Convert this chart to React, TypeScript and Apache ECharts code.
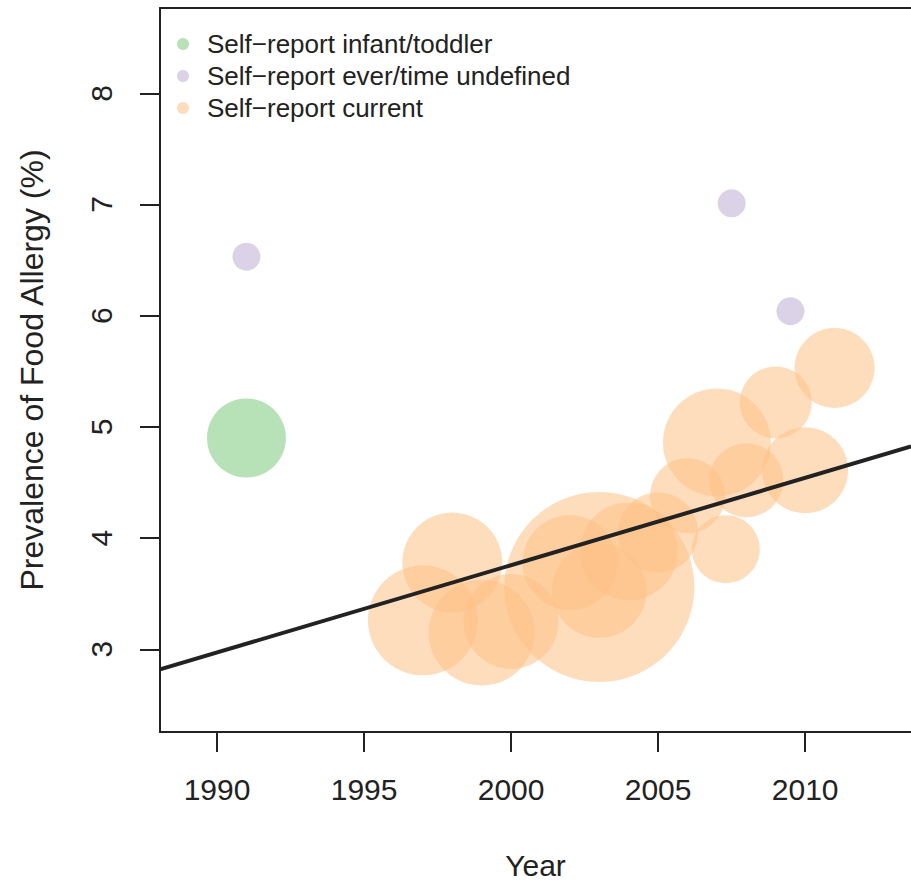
import React, { useEffect, useRef } from "react";
import * as echarts from "echarts";

// ---- Data ----
const infantYears = [1991];
const infantValues = [4.9];
const infantWeights = [79];

const everYears = [1991, 2007.5, 2009.5];
const everValues = [6.53, 7.01, 6.04];
const everWeights = [28, 28, 28];

const currentYears = [2003, 1997, 1999, 1998, 2007, 2000, 2002, 2003, 2004, 2010, 2005, 2011, 2006, 2008, 2009, 2007.3];
const currentValues = [3.56, 3.26, 3.15, 3.78, 4.86, 3.25, 3.78, 3.53, 3.88, 4.61, 4.05, 5.53, 4.38, 4.52, 5.22, 3.9];
const currentWeights = [190, 110, 106, 100, 108, 95, 95, 95, 98, 86, 80, 80, 75, 74, 72, 68];

const fitLine = [
  [1988.06, 2.819],
  [2013.6, 4.824],
];

const xTicks = [1990, 1995, 2000, 2005, 2010];
const yTicks = [3, 4, 5, 6, 7, 8];

const seriesNames = [
  "Self\u2212report infant/toddler",
  "Self\u2212report ever/time undefined",
  "Self\u2212report current",
];

const COLORS = [
  "rgba(127,201,127,0.7)",
  "rgba(190,174,212,0.7)",
  "rgba(253,192,134,0.68)",
];

const FONT = "'Liberation Sans', Arial, Helvetica, sans-serif";
const INK = "#222222";

function pts(xs: number[], ys: number[], ws: number[]) {
  return xs.map((x, i) => [x, ys[i], ws[i]]);
}

export default function App() {
  const ref = useRef<HTMLDivElement>(null);
  useEffect(() => {
    if (!ref.current) return;
    const chart = echarts.init(ref.current, undefined, { renderer: "svg" });
    const bubble = (name: string, color: string, data: number[][]) => ({
      name,
      type: "scatter",
      data,
      symbol: "circle",
      symbolSize: (v: number[]) => v[2],
      itemStyle: { color },
      emphasis: { disabled: true },
      z: 2,
    });
    chart.setOption({
      animation: false,
      backgroundColor: "#ffffff",
      textStyle: { fontFamily: FONT },
      grid: {
        left: 160,
        top: 8,
        right: 0,
        bottom: 154,
        show: false,
        containLabel: false,
      },
      legend: {
        orient: "vertical",
        left: 172,
        top: 26,
        itemWidth: 38,
        itemHeight: 12,
        itemGap: 6,
        icon: "circle",
        textStyle: { fontFamily: FONT, fontSize: 26, color: INK },
        data: seriesNames,
      },
      xAxis: [
        {
          type: "value",
          min: 1988.06,
          max: 2013.6,
          name: "Year",
          nameLocation: "middle",
          nameGap: 118,
          nameTextStyle: { fontFamily: FONT, fontSize: 30, color: INK },
          splitLine: { show: false },
          axisLine: { show: true, lineStyle: { color: INK, width: 2 } },
          axisTick: {
            show: true,
            length: 20,
            lineStyle: { color: INK, width: 2 },
            customValues: xTicks,
          },
          axisLabel: {
            fontFamily: FONT,
            fontSize: 30,
            color: INK,
            margin: 42,
            customValues: xTicks,
            formatter: (v: number) => String(v),
          },
        },
        {
          type: "value",
          position: "top",
          min: 1988.06,
          max: 2013.6,
          splitLine: { show: false },
          axisLine: { show: true, lineStyle: { color: INK, width: 2 } },
          axisTick: { show: false },
          axisLabel: { show: false },
        },
      ],
      yAxis: {
        type: "value",
        min: 2.256,
        max: 8.767,
        name: "Prevalence of Food Allergy (%)",
        nameLocation: "middle",
        nameGap: 112,
        nameTextStyle: { fontFamily: FONT, fontSize: 32, color: INK },
        splitLine: { show: false },
        axisLine: { show: true, lineStyle: { color: INK, width: 2 } },
        axisTick: {
          show: true,
          length: 20,
          lineStyle: { color: INK, width: 2 },
          customValues: yTicks,
        },
        axisLabel: {
          fontFamily: FONT,
          fontSize: 30,
          color: INK,
          margin: 44,
          rotate: 90,
          customValues: yTicks,
          formatter: (v: number) => String(v),
        },
      },
      series: [
        bubble(seriesNames[0], COLORS[0], pts(infantYears, infantValues, infantWeights)),
        bubble(seriesNames[1], COLORS[1], pts(everYears, everValues, everWeights)),
        bubble(seriesNames[2], COLORS[2], pts(currentYears, currentValues, currentWeights)),
        {
          name: "fit",
          type: "line",
          data: fitLine,
          symbol: "none",
          lineStyle: { color: INK, width: 4 },
          emphasis: { disabled: true },
          z: 5,
        },
      ],
    });
    return () => chart.dispose();
  }, []);
  return (
    <div
      ref={ref}
      style={{ position: "fixed", left: 0, top: 0, width: 911, height: 886, background: "#fff" }}
    />
  );
}
